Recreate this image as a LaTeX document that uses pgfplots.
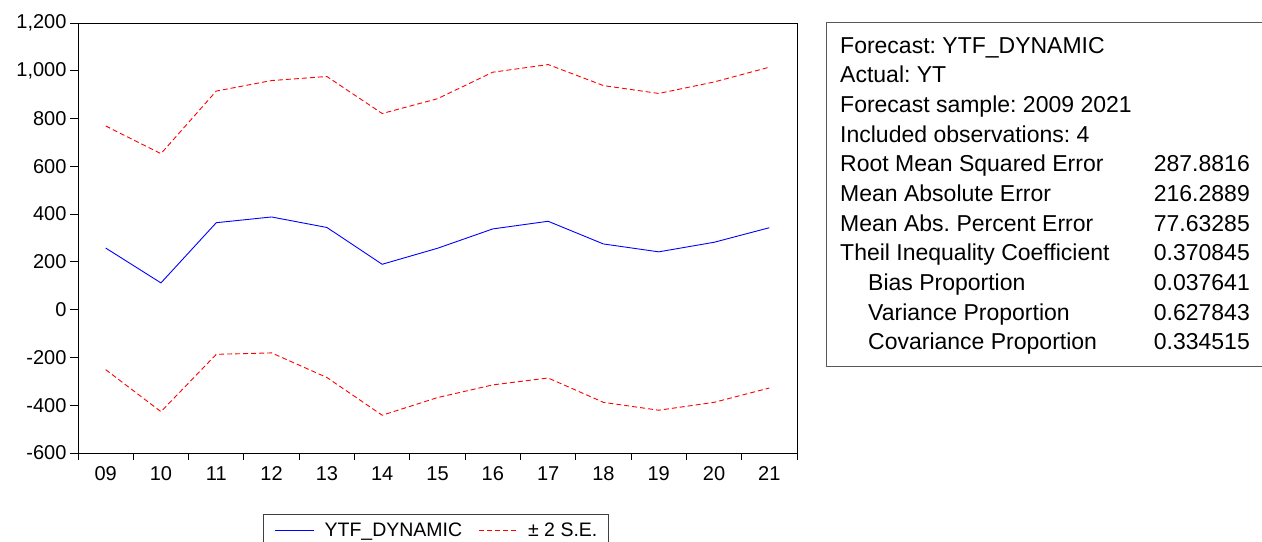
\documentclass[border=0pt]{standalone}
\usepackage{pgfplots}
\usepackage{pgfplotstable}
\pgfplotsset{compat=1.18}
\usepackage{fontspec}
\setmainfont{Liberation Sans}
\frenchspacing

\pgfplotstableread{
x f up lo
0 258 769 -251
1 112 653 -427
2 364 915 -187
3 388 959 -181
4 344 976 -284
5 190 821 -442
6 257 883 -368
7 338 994 -315
8 370 1026 -286
9 275 938 -388
10 242 905 -421
11 282 953 -388
12 343 1015 -328
}\data

\begin{document}
\begin{tikzpicture}[x=1bp,y=1bp]
\useasboundingbox (0,0) rectangle (1262,542);
\begin{axis}[
  at={(78bp,89bp)}, anchor=south west,
  scale only axis, width=719bp, height=430bp,
  xmin=-0.5, xmax=12.5, ymin=-600, ymax=1200,
  axis line style={black, line width=0.9bp},
  tick pos=left, tick align=outside,
  major tick length=8bp, minor tick length=7bp,
  every tick/.style={black, line width=0.9bp},
  ytick={-600,-400,...,1200},
  yticklabels={-600,-400,-200,0,200,400,600,800,{1,000},{1,200}},
  xtick={0,...,12},
  xticklabels={09,10,11,12,13,14,15,16,17,18,19,20,21},
  major x tick style={draw=none},
  minor xtick={-0.5,0.5,...,12.5},
  ticklabel style={font=\fontsize{20bp}{22bp}\selectfont},
  xticklabel style={yshift=-2bp},
  legend columns=2,
  legend style={at={(0.2577,-0.1426)}, anchor=north west, draw=black!75,
    line width=0.9bp, font=\fontsize{19.5bp}{21bp}\selectfont,
    inner xsep=11bp, inner ysep=8bp, column sep=10bp,
    nodes={inner sep=0pt},
    /tikz/every even column/.append style={column sep=16bp}},
  legend image code/.code={\draw[#1] (0bp,0bp) -- (39bp,0bp);},
]
\addplot[blue, line width=0.9bp] table[x=x,y=f] {\data};
\addlegendentry{YTF\_DYNAMIC}
\addplot[red, line width=0.9bp, dash pattern=on 5bp off 3bp] table[x=x,y=up] {\data};
\addlegendentry{± 2 S.E.}
\addplot[red, line width=0.9bp, dash pattern=on 5bp off 3bp, forget plot] table[x=x,y=lo] {\data};
\end{axis}
\draw[black!65, line width=0.9bp] (826,175.3) rectangle (1275,519.3);
\begin{scope}[every node/.style={inner sep=0pt, font=\fontsize{23bp}{24bp}\selectfont}]
\node[anchor=base west] at (840,488.7) {Forecast: YTF\_DYNAMIC};
\node[anchor=base west] at (840,459.0) {Actual: YT};
\node[anchor=base west] at (840,429.4) {Forecast sample: 2009 2021};
\node[anchor=base west] at (840,399.7) {Included observations: 4};
\node[anchor=base west] at (840,370.0) {Root Mean Squared Error};
\node[anchor=base west] at (840,340.4) {Mean Absolute Error};
\node[anchor=base west] at (840,310.7) {Mean Abs. Percent Error};
\node[anchor=base west] at (840,281.0) {Theil Inequality Coefficient};
\node[anchor=base west] at (868,251.4) {Bias Proportion};
\node[anchor=base west] at (868,221.7) {Variance Proportion};
\node[anchor=base west] at (868,192.0) {Covariance Proportion};
\node[anchor=base east] at (1250,370.0) {287.8816};
\node[anchor=base east] at (1250,340.4) {216.2889};
\node[anchor=base east] at (1250,310.7) {77.63285};
\node[anchor=base east] at (1250,281.0) {0.370845};
\node[anchor=base east] at (1250,251.4) {0.037641};
\node[anchor=base east] at (1250,221.7) {0.627843};
\node[anchor=base east] at (1250,192.0) {0.334515};
\end{scope}
\end{tikzpicture}
\end{document}
